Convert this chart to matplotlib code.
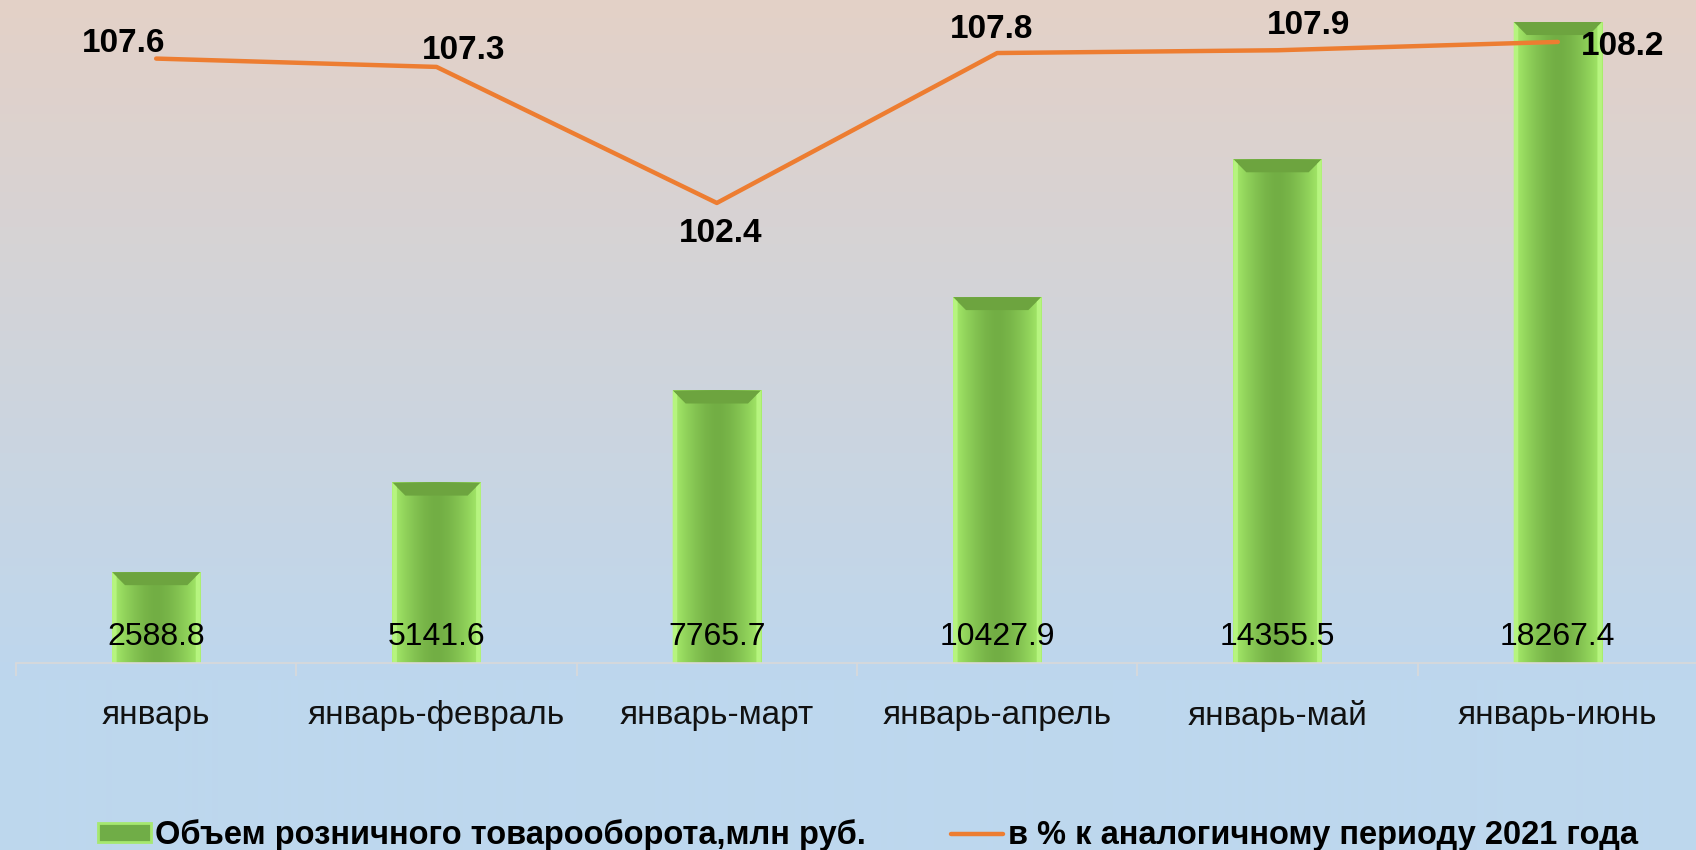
import numpy as np
import matplotlib.pyplot as plt
from matplotlib.patches import Polygon, Patch
from matplotlib.lines import Line2D

# data
periods = ["январь", "январь-февраль", "январь-март",
           "январь-апрель", "январь-май", "январь-июнь"]
volume = [2588.8, 5141.6, 7765.7, 10427.9, 14355.5, 18267.4]
growth = [107.6, 107.3, 102.4, 107.8, 107.9, 108.2]

# label offsets for the line values (pixels)
growth_label_offsets = [(-33, 15), (27, 16), (4, -31), (-6, 24), (31, 25), (65, -5)]

plt.rcParams["font.family"] = ["Liberation Sans", "DejaVu Sans"]

W, H = 1696, 850
fig = plt.figure(figsize=(W / 100, H / 100), dpi=100)

# background gradient: beige at the top, light blue at the bottom
bg = fig.add_axes([0, 0, 1, 1], zorder=0)
bg.axis("off")
top = np.array([228, 209, 199]) / 255
bottom = np.array([189, 215, 238]) / 255
t = np.clip(np.linspace(0, 1, H) / 0.8, 0, 1)
img = top[None, :] * (1 - t)[:, None] + bottom[None, :] * t[:, None]
bg.imshow(img[:, None, :], aspect="auto", extent=[0, 1, 0, 1])

# main axes
ax = fig.add_axes([16 / W, 1 - 663 / H, 1682 / W, 663 / H], zorder=1)
ax.patch.set_alpha(0)
x = np.arange(len(periods))
bw = 0.315
ymax = 18895

bars = ax.bar(x, volume, width=bw, color="#8fd456", zorder=2)

# bevelled look of the bars
px_x = len(periods) / 1682.0        # data units per pixel, x
px_y = ymax / 663.0                 # data units per pixel, y
bev = 13
cols = np.abs(np.linspace(-1, 1, 80)) ** 1.6
center_c = np.array([114, 174, 68]) / 255
edge_c = np.array([168, 238, 108]) / 255
grad = center_c[None, :] * (1 - cols)[:, None] + edge_c[None, :] * cols[:, None]
for b in bars:
    x0, x1 = b.get_x(), b.get_x() + b.get_width()
    h = b.get_height()
    ax.imshow(grad[None, :, :], extent=[x0, x1, 0, h], aspect="auto", zorder=2.1)
    bx, by = bev * px_x, bev * px_y
    ax.add_patch(Polygon([(x0, h), (x1, h), (x1 - bx, h - by), (x0 + bx, h - by)],
                         closed=True, color="#6da43f", lw=0, zorder=2.2))
    ax.add_patch(Polygon([(x0, h), (x0 + bx * 0.35, h - by * 0.35),
                          (x0 + bx * 0.35, 0), (x0, 0)],
                         closed=True, color="#b6f47f", lw=0, zorder=2.2))
    ax.add_patch(Polygon([(x1, h), (x1 - bx * 0.35, h - by * 0.35),
                          (x1 - bx * 0.35, 0), (x1, 0)],
                         closed=True, color="#b6f47f", lw=0, zorder=2.2))
ax.set_xlim(-0.5, len(periods) - 0.5)
ax.set_ylim(0, ymax)

for xi, v in zip(x, volume):
    ax.annotate(f"{v:.1f}", (xi, 0), xytext=(0, 26), textcoords="offset pixels",
                ha="center", va="center", fontsize=23, color="black", zorder=4)

# category axis
for s in ["top", "left", "right"]:
    ax.spines[s].set_visible(False)
ax.spines["bottom"].set_color("#d9d9d9")
ax.spines["bottom"].set_linewidth(1.2)
ax.set_yticks([])
ax.set_xticks(x)
ax.set_xticklabels(periods, fontsize=24, color="#111111")
ax.tick_params(axis="x", which="major", length=0, pad=26.5)
ax.set_xticks(np.arange(-0.5, len(periods), 1), minor=True)
ax.tick_params(axis="x", which="minor", length=9, width=1.2, color="#d9d9d9",
               direction="out")

# growth line on a second axis
ax2 = ax.twinx()
ax2.set_ylim(85.83, 109.71)
ax2.plot(x, growth, color="#ed7d31", lw=3.2, solid_capstyle="round", zorder=3)
for s in ax2.spines.values():
    s.set_visible(False)
ax2.set_yticks([])
for xi, g, (dx, dy) in zip(x, growth, growth_label_offsets):
    ax2.annotate(f"{g:.1f}", (xi, g), xytext=(dx, dy), textcoords="offset pixels",
                 ha="center", va="center", fontsize=24, fontweight="bold",
                 color="black")

# legend
handles = [Patch(facecolor="#70ad47", edgecolor="#a6e870", lw=2),
           Line2D([0], [0], color="#ed7d31", lw=3.2, solid_capstyle="round")]
labels = ["Объем розничного товарооборота,млн руб.",
          "в % к аналогичному периоду 2021 года"]
fig.legend(handles, labels, loc="center", bbox_to_anchor=(0.512, 1 - 835 / H),
           ncol=2, frameon=False, handlelength=1.6, handleheight=0.5,
           handletextpad=0.15, columnspacing=2.6,
           prop={"weight": "bold", "size": 23.5})

fig.savefig("out.png", dpi=100)
